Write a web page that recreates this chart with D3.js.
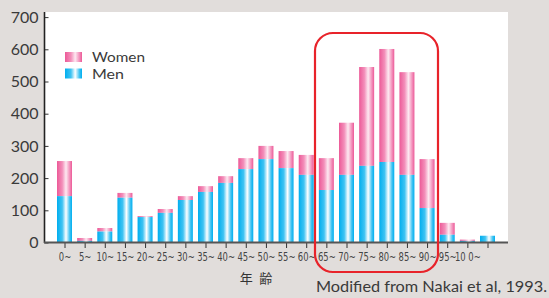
<!DOCTYPE html>
<html><head><meta charset="utf-8">
<script src="https://cdn.jsdelivr.net/npm/d3@7"></script>
<style>
html,body{margin:0;padding:0;background:#e1dddb;}
svg{display:block;}
</style></head>
<body>
<script>
const categories = ["0~","5~","10~","15~","20~","25~","30~","35~","40~","45~","50~","55~","60~","65~","70~","75~","80~","85~","90~","95~","100~","(unk)"];
const tickLabels = ["0~","5~","10~","15~","20~","25~","30~","35~","40~","45~","50~","55~","60~","65~","70~","75~","80~","85~","90~","95~","10 0~",""];
const men   = [144, 5, 34, 139, 79, 92, 132, 157, 185, 228, 259, 231, 210, 163, 210, 238, 250, 210, 107, 24, 5, 21];
const total = [253, 14, 45, 154, 82, 104, 144, 175, 206, 262, 300, 284, 272, 262, 372, 545, 601, 529, 259, 61, 9, 21];
const yTicks = [0,100,200,300,400,500,600,700];
const seriesNames = ["Women","Men"];

const W = 549, H = 298;
const svg = d3.select("body").append("svg").attr("width", W).attr("height", H);
const defs = svg.append("defs");
function grad(id, edge, mid, center){
  const g = defs.append("linearGradient").attr("id", id).attr("x1","0").attr("x2","1").attr("y1","0").attr("y2","0");
  g.append("stop").attr("offset","0%").attr("stop-color",edge);
  g.append("stop").attr("offset","35%").attr("stop-color",mid);
  g.append("stop").attr("offset","60%").attr("stop-color",center);
  g.append("stop").attr("offset","85%").attr("stop-color",mid);
  g.append("stop").attr("offset","100%").attr("stop-color",edge);
}
grad("gBlue", "#00aeef", "#3fc3f2", "#ffffff");
grad("gPink", "#ec5997", "#f38fba", "#fde9f1");

// plot background
svg.append("rect").attr("x",45).attr("y",12).attr("width",463).attr("height",231).attr("fill","#ffffff");

const x = d3.scalePoint().domain(categories).range([64.5, 487.5]);
const y = d3.scaleLinear().domain([0,700]).range([242.5, 17.1]);
const bw = 15;

const g = svg.append("g");
g.selectAll("rect.w").data(categories).join("rect").attr("class","w")
  .attr("x", d => x(d) - bw/2).attr("width", bw)
  .attr("y", (d,i) => y(total[i])).attr("height", (d,i) => y(men[i]) - y(total[i]))
  .attr("fill","url(#gPink)");
g.selectAll("rect.m").data(categories).join("rect").attr("class","m")
  .attr("x", d => x(d) - bw/2).attr("width", bw)
  .attr("y", (d,i) => y(men[i])).attr("height", (d,i) => y(0) - y(men[i]))
  .attr("fill","url(#gBlue)");

// y axis
const ya = svg.append("g").attr("transform","translate(44.5,0)")
  .call(d3.axisLeft(y).tickValues(yTicks).tickSizeInner(-4).tickSizeOuter(0).tickPadding(6));
ya.select(".domain").remove();
ya.selectAll(".tick line").attr("stroke","#333");
ya.selectAll(".tick text").attr("font-family","Lato, 'Open Sans', sans-serif").attr("font-size",16).attr("fill","#3a3a3a");
svg.append("line").attr("x1",44.5).attr("x2",44.5).attr("y1",12).attr("y2",243)
  .attr("stroke","#222").attr("stroke-width",1.6);

// x axis
const xa = svg.append("g").attr("transform","translate(0,243)")
  .call(d3.axisBottom(x).tickSize(5).tickPadding(4).tickFormat((d,i) => tickLabels[i]));
xa.select(".domain").remove();
xa.selectAll(".tick line").attr("stroke","#333");
xa.selectAll(".tick text").attr("font-family","'DejaVu Sans Condensed','Liberation Sans Narrow', sans-serif")
  .attr("font-size",12).attr("fill","#444")
  .attr("transform","scale(0.78,1)");
svg.append("line").attr("x1",44).attr("x2",508).attr("y1",242.5).attr("y2",242.5)
  .attr("stroke","#555").attr("stroke-width",2);

// legend
const lg = svg.append("g");
const legFills = ["url(#gPink)","url(#gBlue)"];
seriesNames.forEach((n,i) => {
  lg.append("rect").attr("x",65).attr("y",52 + i*16.5).attr("width",17).attr("height",10).attr("fill",legFills[i]);
  lg.append("text").attr("x",92).attr("y",62 + i*16.5).text(n)
    .attr("font-family","Lato, 'Open Sans', sans-serif").attr("font-size",14).attr("fill","#3a3a3a")
    .attr("textLength", i === 0 ? 53 : 32).attr("lengthAdjust","spacingAndGlyphs");
});

// highlight box
svg.append("rect").attr("x",315).attr("y",33).attr("width",123).attr("height",239)
  .attr("rx",18).attr("ry",18).attr("fill","none").attr("stroke","#e8232a").attr("stroke-width",2.2);

// axis title
svg.append("text").attr("x",256).attr("y",283).attr("text-anchor","middle")
  .attr("font-family","'Noto Sans CJK JP', sans-serif").attr("font-size",13).attr("fill","#333").text("年\u2002齢");

svg.append("text").attr("x",316).attr("y",292)
  .attr("font-family","Lato, 'Open Sans', sans-serif").attr("font-size",16).attr("fill","#3a3a3a")
  .attr("textLength",231).attr("lengthAdjust","spacingAndGlyphs")
  .text("Modified from Nakai et al, 1993.");
</script>
</body></html>
